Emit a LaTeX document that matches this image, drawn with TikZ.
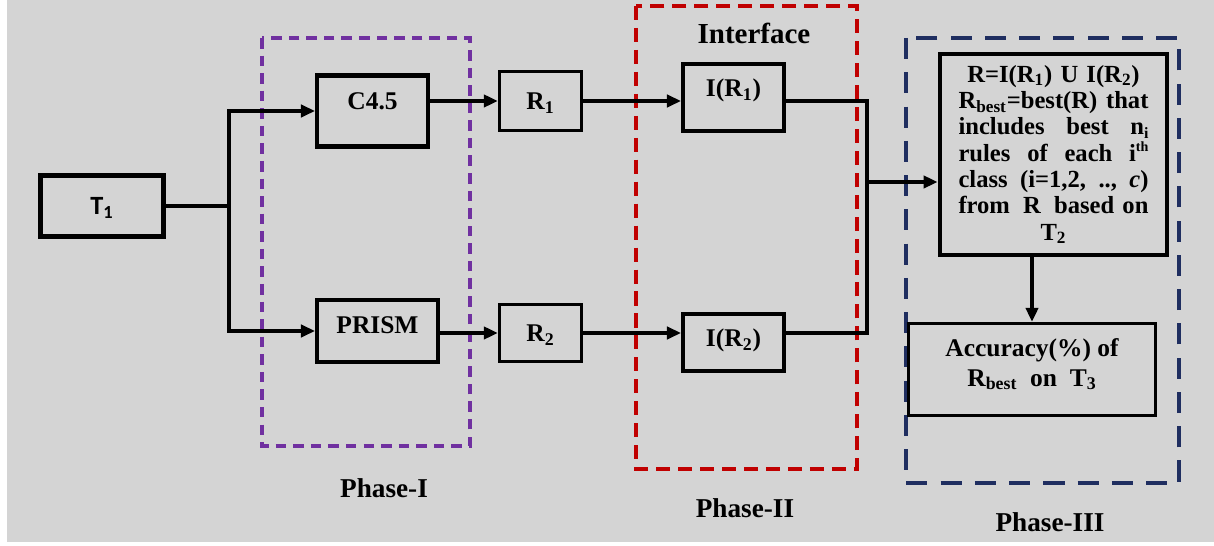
\documentclass[tikz,border=0pt]{standalone}
\usepackage{fontspec}
\setmainfont{Liberation Serif}
\newfontfamily\calibrifont{Carlito}
\usetikzlibrary{arrows.meta}

\definecolor{bggray}{RGB}{212,212,212}
\definecolor{phasepurple}{RGB}{112,48,160}
\definecolor{phasered}{RGB}{192,0,0}
\definecolor{phasenavy}{RGB}{31,46,96}

\newcommand{\spreadline}[1]{\makebox[3.8cm]{#1}}
\newcommand{\sub}[1]{\textsubscript{#1}}

\begin{document}
\begin{tikzpicture}[x=0.02cm, y=-0.02cm, >={Triangle[length=8pt,width=7pt]},
	block/.style={draw, line width=2.3pt, inner sep=0pt, font=\fontsize{14.5}{16}\selectfont\bfseries, text height=10pt, text depth=0pt},
	heavy/.style={line width=2.8pt},
	light/.style={line width=1.9pt},
	flow/.style={line width=1.9pt},
	frame/.style={line width=1.8pt},
	caption/.style={font=\fontsize{15.5}{18}\selectfont\bfseries}]

		\useasboundingbox (0,0) rectangle (1214,546);
		\fill[bggray] (7,0) rectangle (1214,542);

		% phase frames
		\draw[frame, phasepurple, dash pattern=on 6pt off 4pt] (262,38) rectangle (470,446);
		\draw[frame, phasered, dash pattern=on 8pt off 4.5pt] (636,6) rectangle (857,469);
		\draw[frame, phasenavy, dash pattern=on 12pt off 7.5pt] (906,38) rectangle (1179,483);

		\node[caption] (phase1) at (384,488) {Phase-I};
		\node[caption] (phase2) at (745,508) {Phase-II};
		\node[caption] (phase3) at (1050,522) {Phase-III};
		\node[caption, font=\fontsize{16.5}{18}\selectfont\bfseries] (interface) at (754,33) {Interface};

		% boxes
		\node[block, heavy, minimum width=2.46cm, minimum height=1.22cm, font=\calibrifont\bfseries\fontsize{15}{17}\selectfont] (T1) at (102,206) {T\sub{1}};
		\node[block, minimum width=2.22cm, minimum height=1.42cm, text depth=11.4pt] (C45) at (372.5,111) {C4.5};
		\node[block, minimum width=2.42cm, minimum height=1.24cm, text depth=6.8pt] (PRISM) at (377.5,331) {PRISM};
		\node[block, light, minimum width=1.64cm, minimum height=1.18cm] (R1) at (540.5,101) {R\sub{1}};
		\node[block, light, minimum width=1.64cm, minimum height=1.14cm] (R2) at (540.5,333) {R\sub{2}};
		\node[block, minimum width=2.02cm, minimum height=1.34cm, text depth=10.8pt] (IR1) at (733.5,97.5) {I(R\sub{1})};
		\node[block, minimum width=2.02cm, minimum height=1.14cm, text depth=5pt] (IR2) at (733.5,342.5) {I(R\sub{2})};
		\node[block, heavy, minimum width=4.54cm, minimum height=4.02cm, text width=3.8cm, align=center,
			font=\fontsize{14}{15}\selectfont\bfseries, text height=, text depth=] (best) at (1053.5,154.5)
			{R=I(R\sub{1}) U I(R\sub{2})\\
			 \spreadline{R\sub{best}=best(R)\hfill that}\\
			 \spreadline{includes\hfill best\hfill n\raisebox{-2pt}{\fontsize{9}{9}\selectfont i}}\\
			 \spreadline{rules\hfill of\hfill each\hfill i\raisebox{5.5pt}{\fontsize{8}{8}\selectfont th}}\\
			 \spreadline{class\hfill (i=1,2,\hfill ..,\hfill \textit{c})}\\
			 \spreadline{from\hfill R\hfill based on}\\
			 T\sub{2}};
		\node[block, light, minimum width=4.94cm, minimum height=1.84cm, align=center,
			font=\fontsize{14.5}{17}\selectfont\bfseries, text height=27pt, text depth=8pt] (acc) at (1032,369.5)
			{Accuracy(\%) of\\ R\sub{best}~ on~ T\sub{3}};

		% connectors
		\coordinate (split) at (229,206);
		\coordinate (merge) at (867,182);

		\draw[flow] (T1) -- (split);
		\draw[flow, ->] (split) |- (C45.west);
		\draw[flow, ->] (split) |- (PRISM.west);
		\draw[flow, ->] (C45.east |- R1) -- (R1.west);
		\draw[flow, ->] (PRISM.east |- R2) -- (R2.west);
		\draw[flow, ->] (R1) -- (R1 -| IR1.west);
		\draw[flow, ->] (R2) -- (R2 -| IR2.west);
		\draw[flow] (IR1.east |- R1) -| (merge);
		\draw[flow, line width=2.4pt] (IR2.east |- R2) -| (merge);
		\draw[flow, ->] (merge) -- (merge -| best.west);
		\draw[flow, ->] (best.south -| acc) -- (acc.north);

\end{tikzpicture}
\end{document}
